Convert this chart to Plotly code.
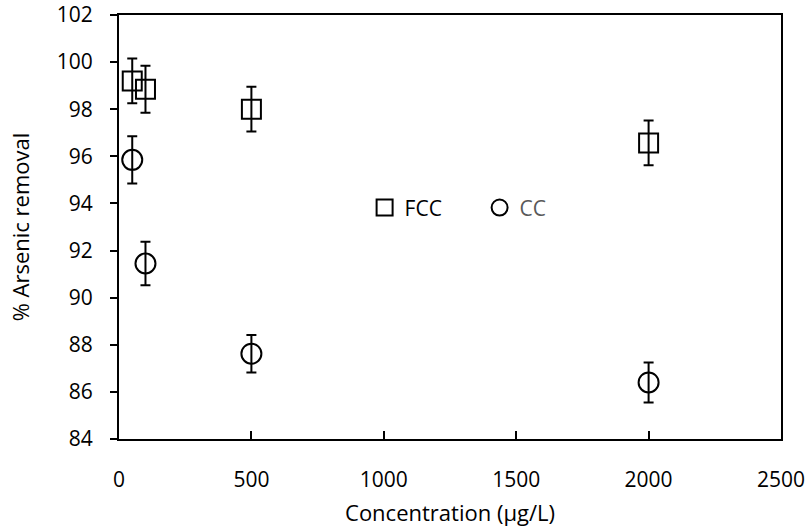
import plotly.graph_objects as go

conc = [50, 100, 500, 2000]
fcc = [99.2, 98.85, 98.0, 96.57]
fcc_err = [0.95, 1.0, 0.95, 0.95]
cc = [95.85, 91.45, 87.62, 86.4]
cc_err = [1.0, 0.92, 0.8, 0.85]

FONT = "Open Sans"

fig = go.Figure()
fig.add_trace(go.Scatter(
    x=conc, y=fcc, mode="markers", name="FCC",
    marker=dict(symbol="square-open", size=19, color="black", line=dict(width=2, color="black")),
    error_y=dict(type="data", array=fcc_err, visible=True, color="black", thickness=2, width=5),
))
fig.add_trace(go.Scatter(
    x=conc, y=cc, mode="markers", name='<span style="color:#595959">CC</span>',
    marker=dict(symbol="circle-open", size=20, color="black", line=dict(width=2, color="black")),
    error_y=dict(type="data", array=cc_err, visible=True, color="black", thickness=2, width=5),
))

fig.update_layout(
    width=812, height=529,
    margin=dict(l=119, r=31, t=15, b=90),
    paper_bgcolor="white", plot_bgcolor="white",
    font=dict(family=FONT, size=21, color="black"),
    showlegend=True,
    legend=dict(orientation="h", x=0.371, y=0.545, xanchor="left", yanchor="middle",
                bgcolor="rgba(0,0,0,0)", entrywidth=70, entrywidthmode="pixels",
                font=dict(family=FONT, size=21, color="black")),
    xaxis=dict(range=[0, 2500], dtick=500, tick0=0, showgrid=False, zeroline=False,
               showline=True, linecolor="black", linewidth=2, mirror=True,
               ticks="inside", ticklen=8, tickwidth=2, tickcolor="black",
               ticklabelstandoff=21, tickfont=dict(size=21), automargin=False,
               title=dict(text="Concentration (μg/L)", font=dict(size=22), standoff=13)),
    yaxis=dict(range=[84, 102], dtick=2, tick0=84, showgrid=False, zeroline=False,
               showline=True, linecolor="black", linewidth=2, mirror=True,
               ticks="outside", ticklen=7, tickwidth=2, tickcolor="black",
               ticklabelstandoff=13, tickfont=dict(size=21), automargin=False,
               title=dict(text="% Arsenic removal", font=dict(size=22), standoff=21)),
)

fig.write_html("out.html")
